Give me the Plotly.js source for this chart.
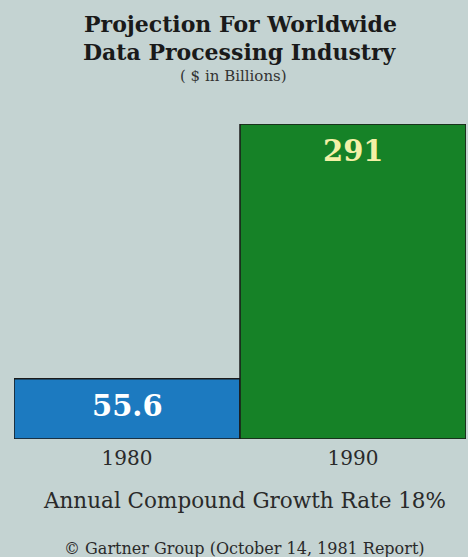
<!DOCTYPE html>
<html>
<head>
<meta charset="utf-8">
<script src="https://cdn.plot.ly/plotly-3.0.1.min.js"></script>
<style>
  html, body { margin: 0; padding: 0; background: #c4d3d2; }
  #chart { width: 468px; height: 557px; }
</style>
</head>
<body>
<div id="chart"></div>
<script>
// Data
const years = ['1980', '1990'];
const values = [55.6, 291];
const valueLabels = ['55.6', '291'];
const barColors = ['#1c7ac0', '#168227'];
const labelColors = ['#ffffff', '#f4f0a6'];

const titleLines = ['Projection For Worldwide', 'Data Processing Industry'];
const subtitleText = '( $ in Billions)';
const growthText = 'Annual Compound Growth Rate 18%';
const sourceText = '© Gartner Group (October 14, 1981 Report)';

const bg = '#c4d3d2';
const serif = 'DejaVu Serif, Liberation Serif, serif';

const trace = {
  type: 'bar',
  x: years,
  y: values,
  marker: { color: barColors, line: { color: '#1a1a1a', width: 1.5 } },
  hoverinfo: 'x+y'
};

const annotations = years.map((yr, i) => ({
  x: i, y: values[i], xref: 'x', yref: 'y',
  text: valueLabels[i], showarrow: false,
  yanchor: 'top', yshift: -8,
  font: { family: serif, size: 29, weight: 'bold', color: labelColors[i] }
}));

// title lines and notes (paper coords, shifted in pixels from plot edges)
annotations.push(
  { xref: 'paper', yref: 'paper', x: 0.5, y: 1, yanchor: 'middle', yshift: 100,
    text: '<b>' + titleLines[0] + '</b>', showarrow: false,
    font: { family: serif, size: 22, color: '#1a1a1a' } },
  { xref: 'paper', yref: 'paper', x: 0.5, y: 1, yanchor: 'middle', yshift: 72,
    text: '<b>' + titleLines[1] + '</b>', showarrow: false,
    font: { family: serif, size: 22, color: '#1a1a1a' } },
  { xref: 'paper', yref: 'paper', x: 0.485, y: 1, yanchor: 'middle', yshift: 48,
    text: subtitleText, showarrow: false,
    font: { family: serif, size: 15, color: '#333333' } },
  { xref: 'paper', yref: 'paper', x: 0.51, y: 0, yanchor: 'middle', yshift: -61,
    text: growthText, showarrow: false,
    font: { family: serif, size: 21.5, color: '#2a2a2a' } },
  { xref: 'paper', yref: 'paper', x: 0.51, y: 0, yanchor: 'middle', yshift: -109,
    text: sourceText, showarrow: false,
    font: { family: serif, size: 16, color: '#2a2a2a' } }
);

const layout = {
  width: 468, height: 557,
  paper_bgcolor: bg, plot_bgcolor: bg,
  margin: { l: 14, r: 2, t: 124, b: 118 },
  bargap: 0,
  showlegend: false,
  xaxis: {
    type: 'category',
    range: [-0.5, 1.5], autorange: false,
    showgrid: false, zeroline: false, showline: false,
    ticks: '', ticklabelstandoff: 5,
    tickfont: { family: serif, size: 20, color: '#2a2a2a' }
  },
  yaxis: {
    range: [0, 291], autorange: false, visible: false, showgrid: false, zeroline: false
  },
  annotations: annotations
};

Plotly.newPlot('chart', [trace], layout, { displayModeBar: false, staticPlot: true });
</script>
</body>
</html>
